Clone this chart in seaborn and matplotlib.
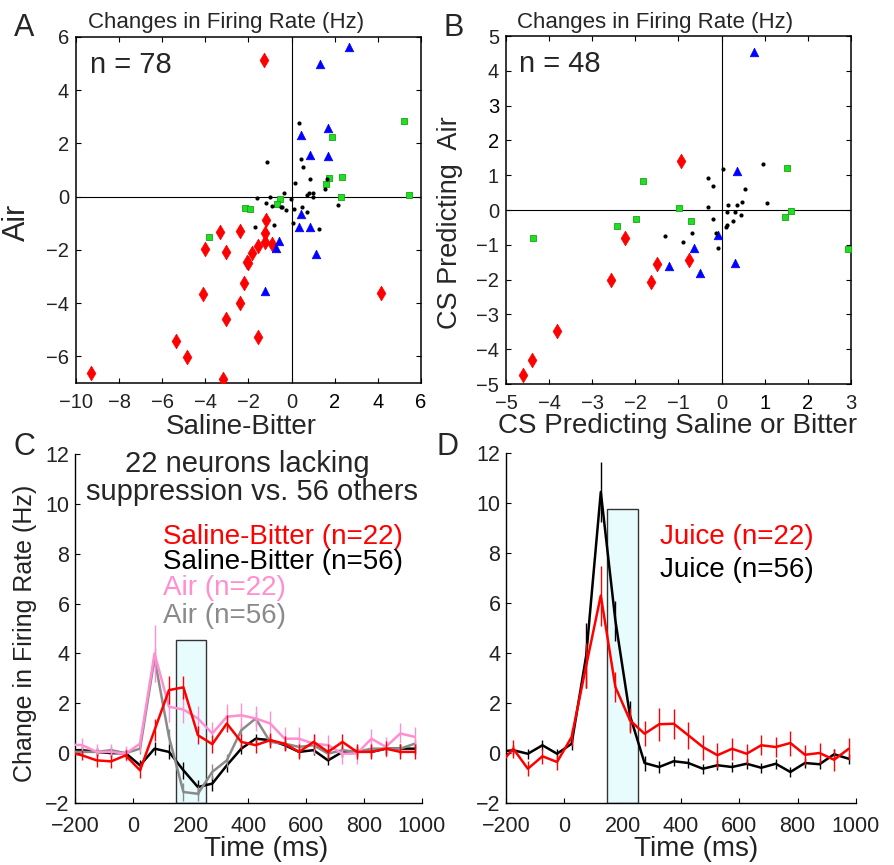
import numpy as np
import pandas as pd
import matplotlib
matplotlib.use('Agg')
import matplotlib.pyplot as plt
import matplotlib.patches as patches
import seaborn as sns

# ---------- panel A: changes in firing rate, saline-bitter vs air (n = 78) ----------
a_red_x = [-1.28, -9.32, -3.17, -4.87, -5.36, -3.06, -1.58, -2.38, -4.11, -2.21, -2.01, -2.05,
           -4.03, -3.06, -3.32, -2.38, -1.84, -1.56, -1.22, -1.22, -1.17, -0.90, 4.13]
a_red_y = [5.14, -6.61, -6.86, -6.01, -5.43, -4.58, -5.26, -3.99, -3.64, -3.26, -2.51, -2.45,
           -1.98, -2.08, -1.33, -1.28, -2.11, -1.86, -1.71, -1.38, -0.87, -1.76, -3.61]
a_blue_x = [2.67, 1.31, 0.45, 1.67, 0.83, 1.70, 0.43, 0.32, 0.83, 1.13, -0.59, -0.74, -1.24]
a_blue_y = [5.61, 4.97, 2.31, 2.57, 1.58, 1.53, -0.66, -1.13, -1.15, -2.15, -1.67, -1.94, -3.54]
a_green_x = [5.21, 1.87, 1.75, 2.32, 1.61, 2.29, 5.44, -0.54, -0.70, -2.15, -1.93, -3.82]
a_green_y = [2.86, 2.23, 0.72, 0.74, 0.48, -0.01, 0.05, -0.09, -0.29, -0.43, -0.48, -1.52]
a_black_x = [0.34, -1.16, 0.42, 0.53, 0.83, 0.15, -0.36, 1.62, 1.55, 0.80, 0.99, 1.00, 0.70,
             -1.59, -1.02, -1.19, -0.90, -0.49, -0.43, -0.25, -0.02, 0.12, 0.46, 0.73, 2.13,
             -0.83, -1.70, 0.06, 1.25]
a_black_y = [2.75, 1.32, 1.43, 1.12, 0.66, 0.51, 0.15, 0.66, 0.29, 0.15, 0.13, 0.00, 0.05,
             -0.06, -0.01, -0.25, -0.34, -0.38, -0.38, -0.50, -0.10, -0.45, -0.38, -0.56, -0.31,
             -1.05, -1.13, -1.00, -1.22]

# ---------- panel B: CS predicting saline or bitter vs CS predicting air (n = 48) ----------
b_red_x = [-0.94, -2.25, -1.49, -0.76, -2.57, -1.64, -3.82, -4.39, -4.60]
b_red_y = [1.42, -0.81, -1.54, -1.43, -2.01, -2.07, -3.47, -4.30, -4.73]
b_blue_x = [0.74, 0.36, -0.08, -0.63, -1.21, -0.50, 0.31]
b_blue_y = [4.53, 1.12, -0.71, -1.08, -1.61, -1.80, -1.53]
b_green_x = [1.52, -1.83, -0.98, -1.98, -0.72, -2.42, -4.37, 1.47, 1.61, 2.92]
b_green_y = [1.22, 0.84, 0.07, -0.27, -0.31, -0.47, -0.81, -0.20, -0.02, -1.12]
b_black_x = [0.04, 0.97, -0.32, -0.19, 0.55, -0.31, 0.47, 0.15, 0.35, 1.05, 0.12, 0.32, 0.46,
             -0.19, 0.27, 0.12, 0.09, -0.68, -0.12, -1.32, -0.90, -0.08]
b_black_y = [1.17, 1.32, 0.92, 0.68, 0.59, 0.09, 0.23, 0.13, 0.13, 0.20, -0.06, -0.05, -0.14,
             -0.25, -0.33, -0.44, -0.48, -0.65, -0.65, -0.75, -0.91, -1.10]

# ---------- panels C and D: population responses over time ----------
time_ms = [-225, -175, -125, -75, -25, 25, 75, 125, 175, 225, 275, 325, 375, 425, 475, 525,
           575, 625, 675, 725, 775, 825, 875, 925, 975]

c_sb22 = [0.05, -0.09, -0.29, -0.33, -0.09, -0.69, 0.92, 2.53, 2.64, 0.72, 0.36, 1.19, 0.45,
          0.32, 0.52, 0.38, 0.05, 0.45, 0.05, 0.45, 0.05, 0.05, 0.18, 0.05, 0.05]
c_sb22_err = [0.25, 0.2, 0.25, 0.25, 0.2, 0.3, 0.45, 0.55, 0.45, 0.35, 0.35, 0.35, 0.3,
              0.3, 0.3, 0.3, 0.3, 0.3, 0.3, 0.3, 0.3, 0.3, 0.3, 0.3, 0.3]
c_sb56 = [0.12, 0.12, 0.05, 0.0, 0.0, -0.49, 0.18, 0.05, -0.69, -1.36, -1.22, -0.49, 0.18,
          0.58, 0.52, 0.32, 0.05, 0.12, -0.29, 0.05, 0.09, 0.05, 0.18, 0.18, 0.18]
c_sb56_err = [0.15, 0.15, 0.15, 0.15, 0.15, 0.2, 0.25, 0.3, 0.35, 0.3, 0.3, 0.25, 0.2,
              0.2, 0.2, 0.2, 0.2, 0.2, 0.2, 0.2, 0.2, 0.2, 0.2, 0.2, 0.2]
c_air22 = [0.35, 0.32, 0.05, 0.05, -0.02, 0.38, 4.0, 1.86, 1.75, 1.39, 0.79, 1.46, 1.52,
           1.39, 1.19, 0.58, 0.58, 0.38, 0.32, -0.02, -0.02, 0.58, 0.25, 0.79, 0.65]
c_air22_err = [0.3, 0.3, 0.3, 0.3, 0.3, 0.35, 1.15, 0.6, 0.55, 0.5, 0.45, 0.5, 0.5,
               0.5, 0.5, 0.45, 0.45, 0.4, 0.4, 0.4, 0.4, 0.4, 0.4, 0.4, 0.4]
c_air56 = [0.05, 0.05, 0.05, 0.12, 0.0, 0.18, 3.8, 0.65, -1.56, -1.63, -0.75, -0.29, 0.92,
           1.39, 0.45, 0.38, 0.25, 0.32, -0.02, 0.12, 0.05, 0.18, 0.18, 0.18, 0.38]
c_air56_err = [0.15, 0.15, 0.15, 0.15, 0.15, 0.2, 0.4, 0.3, 0.35, 0.3, 0.3, 0.25, 0.25,
               0.25, 0.2, 0.2, 0.2, 0.2, 0.2, 0.2, 0.2, 0.2, 0.2, 0.2, 0.2]

d_juice22 = [-0.5, 0.17, -0.63, -0.13, -0.36, 0.64, 3.5, 6.3, 2.64, 1.31, 0.77, 1.15, 1.17,
             0.71, 0.24, -0.09, 0.17, -0.03, 0.31, 0.24, 0.40, -0.07, 0.0, -0.27, 0.17]
d_juice22_err = [0.35, 0.35, 0.3, 0.3, 0.3, 0.35, 0.9, 1.2, 0.6, 0.5, 0.5, 0.65, 0.6,
                 0.55, 0.5, 0.5, 0.45, 0.4, 0.4, 0.4, 0.5, 0.4, 0.4, 0.45, 0.45]
d_juice56 = [0.05, 0.11, -0.03, 0.31, -0.03, 0.37, 3.9, 10.44, 5.3, 1.5, -0.4, -0.56, -0.33,
             -0.40, -0.63, -0.49, -0.56, -0.43, -0.59, -0.43, -0.76, -0.40, -0.45, -0.05, -0.23]
d_juice56_err = [0.2, 0.2, 0.2, 0.2, 0.2, 0.25, 1.3, 1.2, 0.8, 0.6, 0.3, 0.25, 0.2,
                 0.2, 0.2, 0.2, 0.2, 0.2, 0.2, 0.2, 0.2, 0.2, 0.2, 0.2, 0.2]

# analysis window shown as the shaded box (ms)
window_start = 148
window_width = 106

RED = '#ff0000'
BLUE = '#0000ff'
GREEN = '#22dd22'
PINK = '#ff8fd0'
GRAY = '#8a8a8a'

sns.set_style('white', {'xtick.direction': 'in', 'ytick.direction': 'in'})
plt.rcParams['font.family'] = ['Liberation Sans', 'DejaVu Sans']
plt.rcParams['axes.unicode_minus'] = True

W, H = 895, 865
fig = plt.figure(figsize=(W / 100, H / 100), dpi=100)


def px_axes(x0, y0, x1, y1):
    # place an axes using pixel corners of the reference
    return fig.add_axes([x0 / W, 1 - y1 / H, (x1 - x0) / W, (y1 - y0) / H])


def scatter_panel(ax, red, blue, green, black):
    ax.axhline(0, color='black', lw=0.8, zorder=1)
    ax.axvline(0, color='black', lw=0.8, zorder=1)
    sns.scatterplot(x=red[0], y=red[1], ax=ax, color=RED, marker='d', s=55,
                    edgecolor=RED, linewidth=0.5, zorder=3)
    sns.scatterplot(x=blue[0], y=blue[1], ax=ax, color=BLUE, marker='^', s=38,
                    edgecolor=BLUE, linewidth=0.5, zorder=3)
    sns.scatterplot(x=green[0], y=green[1], ax=ax, color=GREEN, marker='s', s=16,
                    edgecolor='#13a813', linewidth=0.6, zorder=3)
    sns.scatterplot(x=black[0], y=black[1], ax=ax, color='black', marker='o', s=9,
                    edgecolor='black', linewidth=0, zorder=3)
    for s in ax.spines.values():
        s.set_visible(True)
        s.set_color('black')
        s.set_linewidth(1.1)
    ax.tick_params(axis='both', which='both', direction='in', length=3.5, width=0.8,
                   top=True, right=True, bottom=True, left=True, labelsize=14.5,
                   colors='black')
    ax.tick_params(axis='x', pad=7)
    ax.tick_params(axis='y', pad=5)
    for lab in ax.get_xticklabels() + ax.get_yticklabels():
        lab.set_color('#222222')


def time_panel(ax, series, box_top):
    ax.add_patch(patches.Rectangle((window_start, -2), window_width, box_top + 2,
                                   facecolor='#e9fcfd', edgecolor='#333333', lw=1.0, zorder=1))
    for vals, errs, col in series:
        df = pd.DataFrame({'t': time_ms, 'v': vals})
        sns.lineplot(data=df, x='t', y='v', ax=ax, color=col, lw=1.8, zorder=3)
        ax.vlines(time_ms, np.array(vals) - np.array(errs), np.array(vals) + np.array(errs),
                  color=col, lw=1.0, zorder=3)
    ax.set_xlim(-200, 1000)
    ax.set_ylim(-2, 12)
    ax.set_xticks([-200, 0, 200, 400, 600, 800, 1000])
    ax.set_yticks([-2, 0, 2, 4, 6, 8, 10, 12])
    sns.despine(ax=ax)
    ax.spines['left'].set_color('black')
    ax.spines['bottom'].set_color('black')
    ax.spines['left'].set_linewidth(1.0)
    ax.spines['bottom'].set_linewidth(1.0)
    ax.tick_params(axis='both', direction='in', length=3.5, width=0.8, labelsize=15.5,
                   left=True, bottom=True, colors='black')
    ax.tick_params(axis='x', pad=9)
    ax.tick_params(axis='y', pad=4)
    for lab in ax.get_xticklabels() + ax.get_yticklabels():
        lab.set_color('#222222')
    ax.set_xlabel('Time (ms)', fontsize=20, color='#222222')
    ax.set_ylabel('')


# ---- A ----
axA = px_axes(76, 37, 421, 383)
scatter_panel(axA, (a_red_x, a_red_y), (a_blue_x, a_blue_y),
              (a_green_x, a_green_y), (a_black_x, a_black_y))
axA.set_xlim(-10, 6)
axA.set_ylim(-7, 6)
axA.set_xticks(range(-10, 7, 2))
axA.set_yticks(range(-6, 7, 2))
axA.set_xlabel('Saline-Bitter', fontsize=20)
axA.xaxis.set_label_coords(0.478, -0.09)
axA.xaxis.label.set_va('top')
axA.set_ylabel('Air', fontsize=22)
axA.yaxis.set_label_coords(-0.128, 0.465)
axA.text(0.435, 1.026, 'Changes in Firing Rate (Hz)', transform=axA.transAxes,
         ha='center', va='baseline', fontsize=16)
axA.text(0.04, 0.896, 'n = 78', transform=axA.transAxes, ha='left', va='baseline',
         fontsize=21)

# ---- B ----
axB = px_axes(506, 36, 851, 384)
scatter_panel(axB, (b_red_x, b_red_y), (b_blue_x, b_blue_y),
              (b_green_x, b_green_y), (b_black_x, b_black_y))
axB.set_xlim(-5, 3)
axB.set_ylim(-5, 5)
axB.set_xticks(range(-5, 4))
axB.set_yticks(range(-5, 6))
axB.set_xlabel('CS Predicting Saline or Bitter', fontsize=20)
axB.xaxis.set_label_coords(0.497, -0.083)
axB.xaxis.label.set_va('top')
axB.set_ylabel('CS Predicting  Air', fontsize=19.5)
axB.yaxis.set_label_coords(-0.125, 0.464)
axB.text(0.432, 1.023, 'Changes in Firing Rate (Hz)', transform=axB.transAxes,
         ha='center', va='baseline', fontsize=16)
axB.text(0.038, 0.897, 'n = 48', transform=axB.transAxes, ha='left', va='baseline',
         fontsize=21)

# ---- C ----
axC = px_axes(75, 454, 422, 803)
time_panel(axC, [(c_sb56, c_sb56_err, 'black'),
                 (c_air56, c_air56_err, GRAY),
                 (c_air22, c_air22_err, PINK),
                 (c_sb22, c_sb22_err, RED)], 4.52)
axC.xaxis.set_label_coords(0.55, -0.095)
axC.xaxis.label.set_va('top')
axC.set_ylabel('Change in Firing Rate (Hz)', fontsize=18, color='#222222')
axC.yaxis.set_label_coords(-0.11, 0.487)
axC.text(0.497, 0.948, '22 neurons lacking', transform=axC.transAxes, ha='center',
         va='baseline', fontsize=21)
axC.text(0.51, 0.868, 'suppression vs. 56 others', transform=axC.transAxes, ha='center',
         va='baseline', fontsize=21)
legend_c = [('Saline-Bitter (n=22)', RED, 0.742), ('Saline-Bitter (n=56)', 'black', 0.670),
            ('Air (n=22)', PINK, 0.596), ('Air (n=56)', GRAY, 0.516)]
for txt, col, yy in legend_c:
    axC.text(0.254, yy, txt, color=col, transform=axC.transAxes, ha='left',
             va='baseline', fontsize=20)

# ---- D ----
axD = px_axes(506, 453, 856, 803)
time_panel(axD, [(d_juice56, d_juice56_err, 'black'),
                 (d_juice22, d_juice22_err, RED)], 9.75)
axD.xaxis.set_label_coords(0.543, -0.095)
axD.xaxis.label.set_va('top')
axD.text(0.44, 0.740, 'Juice (n=22)', color=RED, transform=axD.transAxes,
         ha='left', va='baseline', fontsize=20)
axD.text(0.44, 0.646, 'Juice (n=56)', color='black', transform=axD.transAxes,
         ha='left', va='baseline', fontsize=20)

# panel letters
for letter, x, y in [('A', 14, 36), ('B', 444, 36), ('C', 14, 455), ('D', 437, 455)]:
    fig.text(x / W, 1 - y / H, letter, fontsize=22, ha='left', va='baseline')

fig.savefig('out.png', dpi=100, facecolor='white')
